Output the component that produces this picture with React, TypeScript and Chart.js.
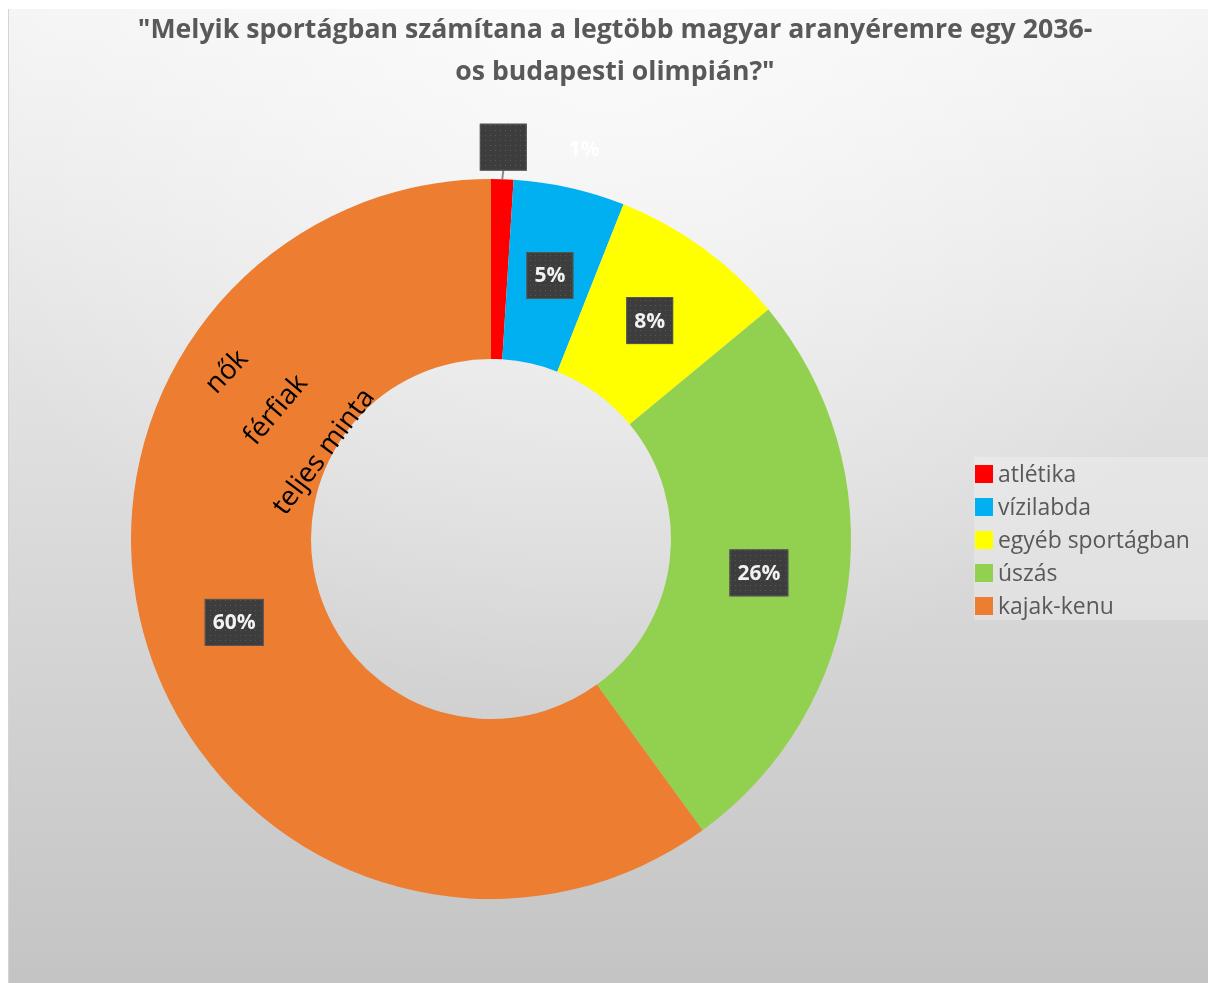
import React, { useEffect, useRef } from "react";
import { Chart, registerables } from "chart.js";
Chart.register(...registerables);

const TITLE_LINES = [
  '"Melyik sportágban számítana a legtöbb magyar aranyéremre egy 2036-',
  'os budapesti olimpián?"',
];
const CATEGORIES = ["atlétika", "vízilabda", "egyéb sportágban", "úszás", "kajak-kenu"];
const VALUES = [1, 5, 8, 26, 60];
const VALUE_LABELS = ["1%", "5%", "8%", "26%", "60%"];
const COLORS = ["#ff0000", "#00b0f0", "#ffff00", "#92d050", "#ed7d31"];
const RING_LABELS = ["nők", "férfiak", "teljes minta"];

const W = 1208;
const H = 975;
const FONT = '"Open Sans", "Noto Sans", sans-serif';

function fitSize(ctx: CanvasRenderingContext2D, text: string, target: number, weight: string) {
  ctx.font = `${weight} 100px ${FONT}`;
  const w = ctx.measureText(text).width;
  return (100 * target) / w;
}

let dotPattern: CanvasPattern | null = null;
function getPattern(ctx: CanvasRenderingContext2D) {
  if (dotPattern) return dotPattern;
  const c = document.createElement("canvas");
  c.width = 5;
  c.height = 5;
  const p = c.getContext("2d")!;
  p.fillStyle = "#3d3d3d";
  p.fillRect(0, 0, 5, 5);
  p.fillStyle = "#585858";
  p.fillRect(2, 2, 1, 1);
  dotPattern = ctx.createPattern(c, "repeat");
  return dotPattern;
}

function drawBox(ctx: CanvasRenderingContext2D, cx: number, cy: number, w: number, h: number) {
  ctx.save();
  ctx.fillStyle = getPattern(ctx) || "#3d3d3d";
  ctx.fillRect(cx - w / 2, cy - h / 2, w, h);
  ctx.strokeStyle = "rgba(90,90,90,0.8)";
  ctx.lineWidth = 1;
  ctx.strokeRect(cx - w / 2 + 0.5, cy - h / 2 + 0.5, w - 1, h - 1);
  ctx.restore();
}

const overlay = {
  id: "overlay",
  beforeDraw(chart: any) {
    const ctx: CanvasRenderingContext2D = chart.ctx;
    ctx.save();
    const g = ctx.createLinearGradient(0, 0, 0, H);
    g.addColorStop(0, "#f4f4f4");
    g.addColorStop(0.5, "#dcdcdc");
    g.addColorStop(1, "#c4c4c4");
    ctx.fillStyle = g;
    ctx.fillRect(0, 1, W, H);
    const r = ctx.createRadialGradient(600, 0, 0, 600, 0, 700);
    r.addColorStop(0, "rgba(255,255,255,0.7)");
    r.addColorStop(1, "rgba(255,255,255,0)");
    ctx.fillStyle = r;
    ctx.fillRect(0, 1, W, H);
    ctx.fillStyle = "#d4d4d4";
    ctx.fillRect(0, 1, 1, H);
    ctx.restore();
  },
  afterDatasetsDraw(chart: any) {
    const ctx: CanvasRenderingContext2D = chart.ctx;
    const arcs = chart.getDatasetMeta(0).data;
    const fs = 21;
    ctx.save();
    ctx.textAlign = "center";
    ctx.textBaseline = "middle";
    ctx.font = `bold ${fs}px ${FONT}`;
    arcs.forEach((arc: any, i: number) => {
      const p = arc.getProps(["x", "y", "startAngle", "endAngle", "innerRadius", "outerRadius"], true);
      const mid = (p.startAngle + p.endAngle) / 2;
      const label = VALUE_LABELS[i];
      const tw = ctx.measureText(label).width;
      if (VALUES[i] < 3) {
        const rr = p.outerRadius + 32;
        const bx = p.x + Math.cos(mid) * rr;
        const by = p.y + Math.sin(mid) * rr;
        ctx.strokeStyle = "#8a8a8a";
        ctx.lineWidth = 2;
        ctx.beginPath();
        ctx.moveTo(bx, by + 23);
        ctx.lineTo(p.x + Math.cos(mid) * p.outerRadius, p.y + Math.sin(mid) * p.outerRadius);
        ctx.stroke();
        drawBox(ctx, bx, by, 47, 47);
        ctx.fillStyle = "rgba(255,255,255,0.9)";
        ctx.fillText(label, bx + 81, by + 3);
      } else {
        const rr = (p.innerRadius + p.outerRadius) / 2;
        const bx = p.x + Math.cos(mid) * rr;
        const by = p.y + Math.sin(mid) * rr;
        drawBox(ctx, bx, by, Math.max(46, tw + 16), 47);
        ctx.fillStyle = "#f2f2f2";
        ctx.fillText(label, bx, by + 1);
      }
    });
    ctx.restore();
  },
  afterDraw(chart: any) {
    const ctx: CanvasRenderingContext2D = chart.ctx;
    ctx.save();
    // Title
    const tfs = fitSize(ctx, TITLE_LINES[0], 955, "bold");
    ctx.font = `bold ${tfs}px ${FONT}`;
    ctx.fillStyle = "#595959";
    ctx.textAlign = "center";
    ctx.textBaseline = "middle";
    ctx.fillText(TITLE_LINES[0], 607, 22);
    ctx.fillText(TITLE_LINES[1], 607, 64);

    // Legend
    ctx.fillStyle = "rgba(255,255,255,0.25)";
    ctx.fillRect(966, 449, W - 966, 163);
    const lfs = fitSize(ctx, "egyéb sportágban", 192, "normal");
    ctx.font = `normal ${lfs}px ${FONT}`;
    ctx.textAlign = "left";
    CATEGORIES.forEach((c, i) => {
      const cy = 466 + 33 * i;
      ctx.fillStyle = COLORS[i];
      ctx.fillRect(967, cy - 9, 18, 18);
      ctx.fillStyle = "#595959";
      ctx.fillText(c, 990, cy + 1);
    });

    // Ring series names
    const arc = chart.getDatasetMeta(0).data[0];
    const cx = arc.x;
    const cy = arc.y;
    const R = arc.outerRadius;
    const rfs = fitSize(ctx, RING_LABELS[2], 150, "normal");
    ctx.font = `normal ${rfs}px ${FONT}`;
    ctx.fillStyle = "#000000";
    ctx.textAlign = "center";
    const spots = [
      [-264, -167, -47],
      [-215, -129, -50],
      [-167, -87, -53],
    ];
    RING_LABELS.forEach((t, i) => {
      const [dx, dy, rot] = spots[i];
      ctx.save();
      ctx.translate(cx + (dx / 360) * R, cy + (dy / 360) * R);
      ctx.rotate((rot * Math.PI) / 180);
      ctx.fillText(t, 0, 0);
      ctx.restore();
    });
    ctx.restore();
  },
};

export default function App() {
  const ref = useRef<HTMLCanvasElement>(null);
  useEffect(() => {
    document.documentElement.style.overflow = "hidden";
    document.body.style.overflow = "hidden";
    const chart = new Chart(ref.current!, {
      type: "doughnut",
      data: {
        labels: CATEGORIES,
        datasets: [
          {
            data: VALUES,
            backgroundColor: COLORS,
            borderWidth: 0,
          },
        ],
      },
      options: {
        responsive: false,
        animation: false,
        cutout: "50%",
        events: [],
        layout: { padding: { left: 123, right: 365, top: 171, bottom: 84 } },
        plugins: {
          legend: { display: false },
          title: { display: false },
          tooltip: { enabled: false },
        },
      },
      plugins: [overlay],
    });
    return () => chart.destroy();
  }, []);
  return (
    <canvas ref={ref} width={W} height={H} style={{ display: "block", width: W, height: H }} />
  );
}
